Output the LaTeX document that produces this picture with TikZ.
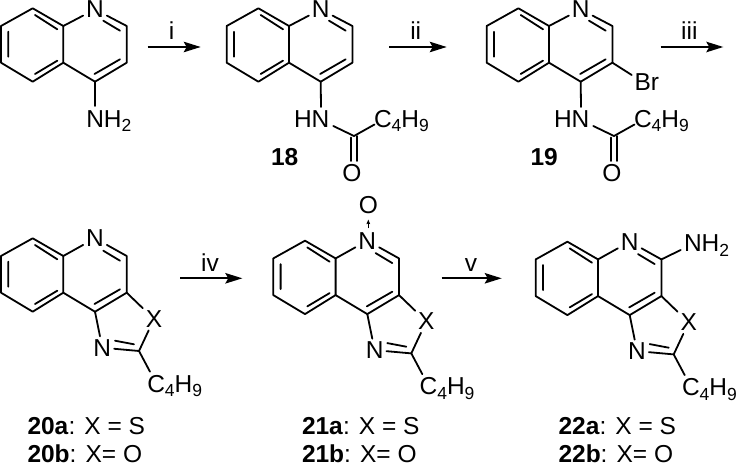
\documentclass[tikz,border=0pt]{standalone}
\usepackage{fontspec}
\setmainfont{Liberation Sans}
\usetikzlibrary{arrows.meta}
\newcommand{\subs}[1]{\raisebox{-4.5pt}{\fontsize{17.5}{17.5}\selectfont #1}}
\tikzset{
  bond/.style={line width=1.8pt,line cap=round,line join=round,black},
  atom/.style={inner sep=3pt,outer sep=0pt,black},
  txt/.style={inner sep=0pt,outer sep=0pt,anchor=base west,black},
  cen/.style={inner sep=0pt,outer sep=0pt,anchor=base,black},
  rxn/.style={line width=1.7pt,black,-{Stealth[length=17pt,width=10.5pt,inset=3pt]}},
  dative/.style={line width=1.3pt,black,-{Stealth[length=4.5pt,width=3.5pt,inset=0.5pt]}},
}
\newcommand{\qn}[4]{%
  \begin{scope}[shift={(#2,#3)}]
    \coordinate (#1a) at (32.7,8.3);
    \coordinate (#1b) at (63.3,26);
    \coordinate (#1c) at (63.3,62.7);
    \coordinate (#1d) at (32.7,81.7);
    \coordinate (#1e) at (1,62.7);
    \coordinate (#1f) at (1,26);
    \coordinate (#1g) at (126.7,26);
    \coordinate (#1h) at (126.7,62.7);
    \coordinate (#1i) at (95,81.7);
    \node[atom] (#1N) at (95,#4) {N};
    \draw[bond] (#1a)--(#1b)--(#1c)--(#1d)--(#1e)--(#1f)--cycle;
    \draw[bond] (#1c)--(#1i)--(#1h)--(#1g)--(#1N)--(#1b);
    \draw[bond] (35,15)--(57.3,29.3) (8.3,31.7)--(8.3,56.7) (35,74)--(57.3,60.7)
                (103.3,20.7)--(120,30.7) (94.5,74)--(120,59.3);
  \end{scope}}
\newcommand{\fused}[3]{%
  \begin{scope}[shift={(#2,#3)}]
    \node[atom] (#1X) at (154,89) {X};
    \node[atom] (#1M) at (102.3,117.7) {N};
    \coordinate (#1k) at (139,121);
    \coordinate (#1l) at (150,141.7);
    \node[txt] (#1R) at (147.3,162.3) {C\subs{4}H\subs{9}};
    \draw[bond] (#1h)--(#1X)--(#1k)--(#1M)--(#1i);
    \draw[bond] (115,110.7)--(134,114.3);
    \draw[bond] (#1k)--(#1l);
  \end{scope}}
\newcommand{\amide}[2]{%
  \begin{scope}[shift={(#2,0)}]
    \coordinate (#1p) at (581,107);
    \coordinate (#1q) at (593.3,126);
    \coordinate (#1r) at (614,136);
    \coordinate (#1s) at (634.5,124.5);
    \node[txt] (#1H) at (554,127.3) {HN};
    \node[txt] (#1C) at (634,127.3) {C\subs{4}H\subs{9}};
    \node[atom,inner sep=1pt] (#1O) at (612,173.5) {O};
    \draw[bond] (#1p)--(#1i);
    \draw[bond] (#1q)--(#1r)--(#1s);
    \draw[bond] (610.8,137.5)--(610.8,161) (616.8,136)--(616.8,161);
  \end{scope}}
\begin{document}
\begin{tikzpicture}[x=1pt,y=-1pt,font=\fontsize{24.5}{24.5}\selectfont]
\useasboundingbox (0,0) rectangle (739,465);
% top row
\qn{A}{0}{0}{9.4}
\coordinate (Ap) at (95,106);
\node[txt] (An) at (86.3,127.3) {NH\subs{2}};
\draw[bond] (Ai)--(Ap);
\qn{B}{225.7}{0}{9.4}
\amide{B}{-260}
\qn{C}{485.7}{0}{9.4}
\amide{C}{0}
\coordinate (Cb) at (631.7,75);
\node[txt] (Cr) at (634.5,90.7) {Br};
\draw[bond] (Ch)--(Cb);
\node[txt,font=\fontsize{24.5}{24.5}\selectfont\bfseries] (L18) at (271,165.7) {18};
\node[txt,font=\fontsize{24.5}{24.5}\selectfont\bfseries] (L19) at (530.5,165.7) {19};
% bottom row
\qn{D}{0}{230}{8.3}
\fused{D}{0}{230}
\qn{E}{272.3}{232.4}{8.3}
\fused{E}{272.3}{232.4}
\node[atom,inner sep=1pt] (Eo) at (368.3,205) {O};
\coordinate (Ed) at (368.3,228.3);
\coordinate (Ee) at (368.3,219.5);
\draw[dative] (Ed)--(Ee);
\qn{F}{534.7}{233.4}{8.3}
\fused{F}{534.7}{233.4}
\coordinate (Fq) at (680.7,250);
\node[txt] (Fn) at (684,251.7) {NH\subs{2}};
\draw[bond] (Fg)--(Fq);
% arrows
\coordinate (a1) at (147.7,47); \coordinate (a2) at (200.7,47);
\coordinate (b1) at (389,47); \coordinate (b2) at (446.7,47);
\coordinate (c1) at (660.7,47); \coordinate (c2) at (723.3,47);
\coordinate (d1) at (180,278.3); \coordinate (d2) at (242.3,278.3);
\coordinate (e1) at (441.7,278.3); \coordinate (e2) at (501.7,278.3);
\draw[rxn] (a1)--(a2);
\draw[rxn] (b1)--(b2);
\draw[rxn] (c1)--(c2);
\draw[rxn] (d1)--(d2);
\draw[rxn] (e1)--(e2);
\node[cen] (t1) at (171.7,40) {i};
\node[cen] (t2) at (415.7,40) {ii};
\node[cen] (t3) at (689.3,40) {iii};
\node[cen] (t4) at (210,271.7) {iv};
\node[cen] (t5) at (471,271.7) {v};
% captions
\node[txt] (k1) at (27.5,434.3) {\textbf{20a}: X = S};
\node[txt] (k2) at (27.5,462.3) {\textbf{20b}: X= O};
\node[txt] (k3) at (302,434.3) {\textbf{21a}: X = S};
\node[txt] (k4) at (302,462.3) {\textbf{21b}: X= O};
\node[txt] (k5) at (558.5,434.3) {\textbf{22a}: X = S};
\node[txt] (k6) at (558.5,462.3) {\textbf{22b}: X= O};
\end{tikzpicture}
\end{document}
